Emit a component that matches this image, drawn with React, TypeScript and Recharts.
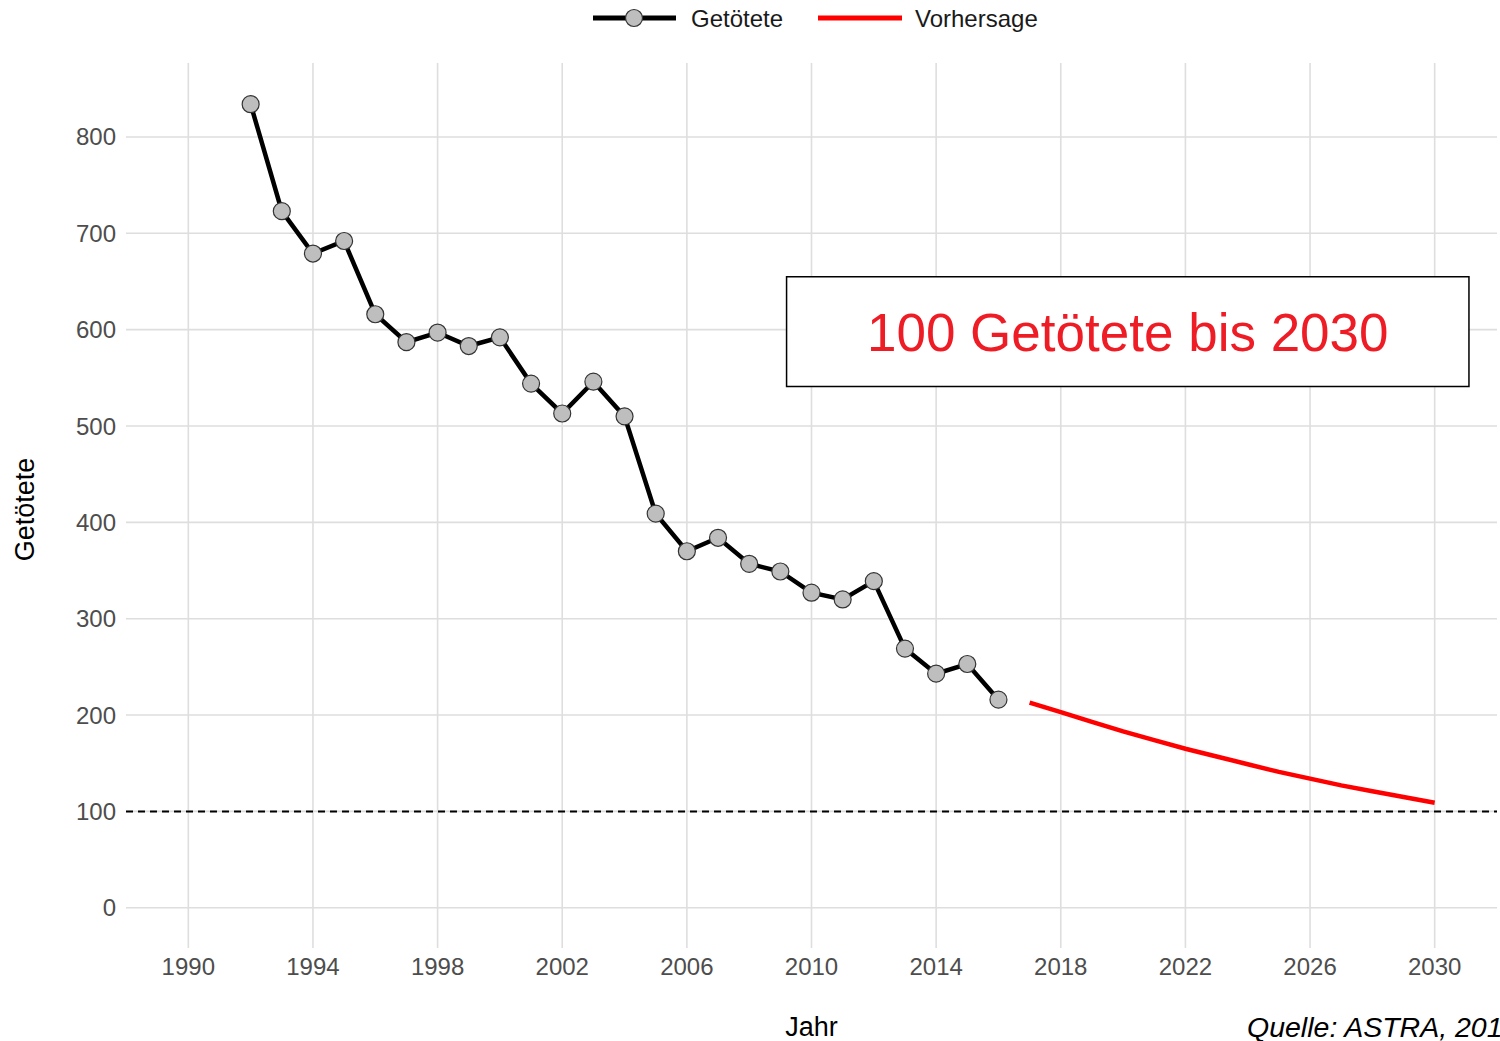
import React from 'react';
import {
  ComposedChart,
  Line,
  XAxis,
  YAxis,
  CartesianGrid,
  ReferenceLine,
  ReferenceArea,
  Legend,
} from 'recharts';

// Observed road deaths (Getötete)
const observedYears = [
  1992, 1993, 1994, 1995, 1996, 1997, 1998, 1999, 2000, 2001, 2002, 2003, 2004,
  2005, 2006, 2007, 2008, 2009, 2010, 2011, 2012, 2013, 2014, 2015, 2016,
];
const observedKilled = [
  834, 723, 679, 692, 616, 587, 597, 583, 592, 544, 513, 546, 510,
  409, 370, 384, 357, 349, 327, 320, 339, 269, 243, 253, 216,
];

// Forecast (Vorhersage)
const forecastYears = [
  2017, 2018, 2019, 2020, 2021, 2022, 2023, 2024, 2025, 2026, 2027, 2028, 2029, 2030,
];
const forecastValues = [
  213, 203, 193, 183, 174, 165, 157, 149, 141, 134, 127, 121, 115, 109,
];

const xTicks = [1990, 1994, 1998, 2002, 2006, 2010, 2014, 2018, 2022, 2026, 2030];
const yTicks = [0, 100, 200, 300, 400, 500, 600, 700, 800];
const targetValue = 100;

const annotationText = '100 Getötete bis 2030';
const xTitle = 'Jahr';
const yTitle = 'Getötete';
const caption = 'Quelle: ASTRA, 2017';

const table = [
  ...observedYears.map((jahr, i) => ({ jahr, getoetete: observedKilled[i] })),
  ...forecastYears.map((jahr, i) => ({ jahr, vorhersage: forecastValues[i] })),
];

const FONT = '"Liberation Sans", Arial, sans-serif';

const renderLegend = () => (
  <svg width={1500} height={36} style={{ display: 'block' }}>
    <line x1={593} x2={676} y1={18} y2={18} stroke="#000" strokeWidth={5} />
    <circle cx={634} cy={18} r={8.5} fill="#bebebe" stroke="#333" strokeWidth={1.2} />
    <text x={691} y={18} dominantBaseline="central" fontSize={24} fill="#1a1a1a" fontFamily={FONT}>
      Getötete
    </text>
    <line x1={818} x2={902} y1={18} y2={18} stroke="#ff0000" strokeWidth={5} />
    <text x={915} y={18} dominantBaseline="central" fontSize={24} fill="#1a1a1a" fontFamily={FONT}>
      Vorhersage
    </text>
  </svg>
);

const XLabel = (props: any) => {
  const vb = props.viewBox || {};
  const cx = vb.x + vb.width / 2;
  return (
    <g>
      <text x={cx} y={1036} textAnchor="middle" fontSize={27} fill="#000" fontFamily={FONT}>
        {xTitle}
      </text>
      <text x={1247} y={1037} textAnchor="start" fontSize={28.5} fontStyle="italic" fill="#000" fontFamily={FONT}>
        {caption}
      </text>
    </g>
  );
};

const YLabel = (props: any) => {
  const vb = props.viewBox || {};
  const cy = vb.y + vb.height / 2 + 4;
  return (
    <text
      x={25}
      y={cy}
      transform={`rotate(-90, 25, ${cy})`}
      textAnchor="middle"
      dominantBaseline="central"
      fontSize={27}
      fill="#000"
      fontFamily={FONT}
    >
      {yTitle}
    </text>
  );
};

const BoxLabel = (props: any) => {
  const vb = props.viewBox || {};
  return (
    <text
      x={vb.x + vb.width / 2}
      y={vb.y + vb.height / 2 + 1}
      textAnchor="middle"
      dominantBaseline="central"
      fontSize={53}
      fill="#ee1c25"
      fontFamily={FONT}
    >
      {annotationText}
    </text>
  );
};

export default function App() {
  return (
    <div style={{ position: 'absolute', left: 0, top: 0, fontFamily: FONT, background: '#fff' }}>
      <ComposedChart
        width={1500}
        height={1041}
        data={table}
        margin={{ top: 27, right: 3, bottom: 0, left: 0 }}
      >
        <CartesianGrid
          stroke="#dedede"
          strokeWidth={1.6}
          verticalValues={xTicks}
          horizontalValues={yTicks}
        />
        <XAxis
          dataKey="jahr"
          type="number"
          domain={[1988, 2032]}
          ticks={xTicks}
          allowDataOverflow
          axisLine={false}
          tickLine={false}
          tickSize={0}
          tickMargin={10}
          height={93}
          tick={{ fill: '#4d4d4d', fontSize: 24, fontFamily: FONT }}
          label={<XLabel />}
        />
        <YAxis
          type="number"
          domain={[-41.75, 876.75]}
          ticks={yTicks}
          allowDataOverflow
          axisLine={false}
          tickLine={false}
          tickSize={0}
          tickMargin={10}
          width={126}
          tick={{ fill: '#4d4d4d', fontSize: 24, fontFamily: FONT }}
          label={<YLabel />}
        />
        <Legend verticalAlign="top" content={renderLegend} wrapperStyle={{ top: 0, left: 0, width: 1500, height: 36 }} />
        <ReferenceLine y={targetValue} stroke="#000" strokeWidth={2} strokeDasharray="7 5" />
        <ReferenceArea
          x1={2009.2}
          x2={2031.1}
          y1={541}
          y2={655}
          fill="#ffffff"
          fillOpacity={1}
          stroke="#000"
          strokeWidth={1.5}
          label={<BoxLabel />}
        />
        <Line
          type="linear"
          dataKey="getoetete"
          name="Getötete"
          stroke="#000"
          strokeWidth={4.5}
          dot={{ r: 8.5, fill: '#bebebe', stroke: '#333', strokeWidth: 1.2 }}
          isAnimationActive={false}
          connectNulls={false}
        />
        <Line
          type="linear"
          dataKey="vorhersage"
          name="Vorhersage"
          stroke="#ff0000"
          strokeWidth={4.5}
          dot={false}
          isAnimationActive={false}
          connectNulls={false}
        />
      </ComposedChart>
    </div>
  );
}
